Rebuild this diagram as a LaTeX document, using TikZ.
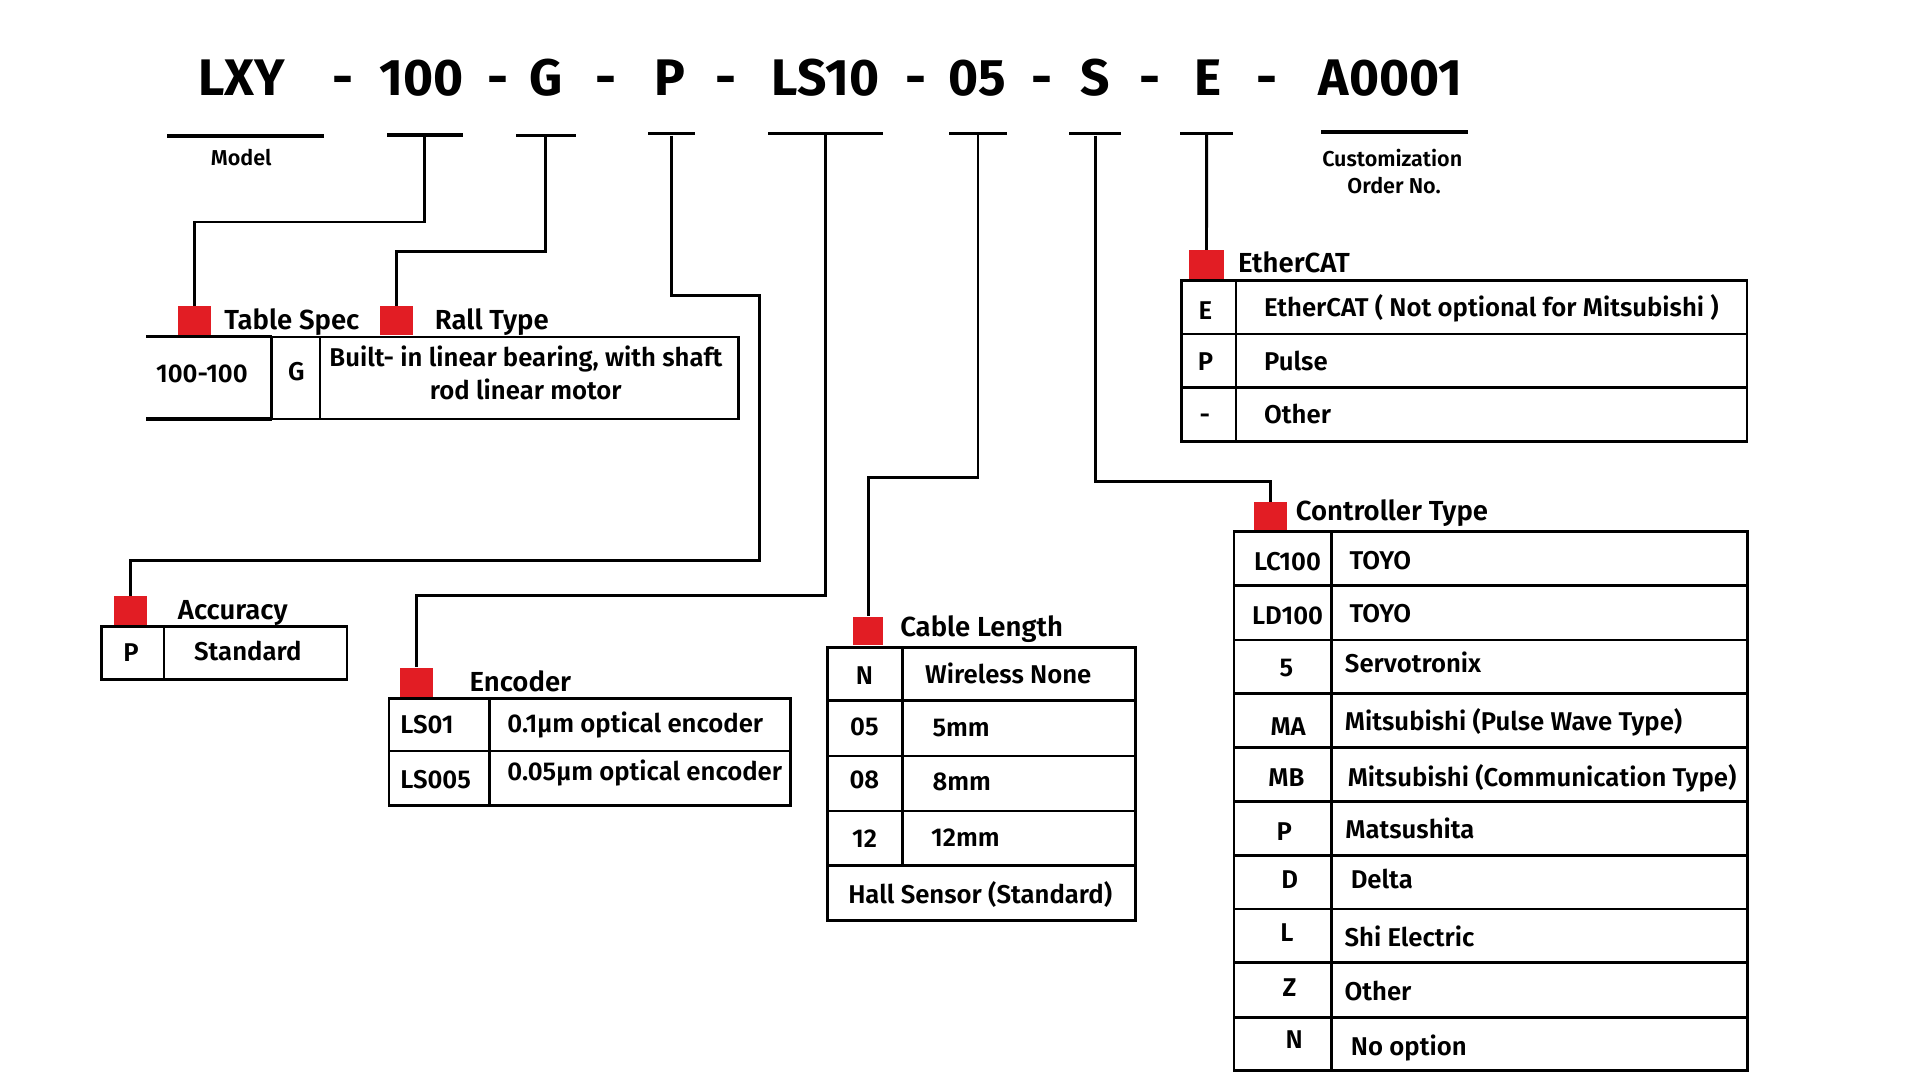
\documentclass[tikz,border=0pt]{standalone}
\usepackage{fontspec}
\setmainfont{Fira Sans}[UprightFont=* SemiBold, BoldFont=* Bold]
\definecolor{rd}{HTML}{E21D24}
\begin{document}
\begin{tikzpicture}[x=1pt,y=-1pt,
  conn/.style={line width=2.4pt},
  tl/.style={line width=2pt},
  uline/.style={fill=black, inner sep=0pt, minimum height=2.6pt},
  redsq/.style={fill=rd, inner sep=0pt, minimum width=27pt, minimum height=24pt},
  ttl/.style={font=\fontsize{42}{48}\selectfont\bfseries, anchor=base, inner sep=0pt},
  hdr/.style={font=\fontsize{22.5}{26}\selectfont, anchor=base west, inner sep=0pt},
  lbl/.style={font=\fontsize{21}{24}\selectfont, anchor=base west, inner sep=0pt},
  cel/.style={font=\fontsize{21}{24}\selectfont, anchor=base, inner sep=0pt},
  sml/.style={font=\fontsize{17.6}{20}\selectfont, anchor=base, inner sep=0pt}]
\useasboundingbox (0,0) rectangle (1568,882);

% ---------- title ----------
\node[ttl] (tLXY) at (197.4,77.6) {LXY};
\node[ttl] (d1) at (280,77.6) {-};
\node[ttl] (t100) at (344.6,77.6) {100};
\node[ttl] (d2) at (407,77.6) {-};
\node[ttl] (tG) at (445.7,77.6) {G};
\node[ttl] (d3) at (494.7,77.6) {-};
\node[ttl] (tP) at (547.4,77.6) {P};
\node[ttl] (d4) at (592.8,77.6) {-};
\node[ttl] (tLS) at (674.2,77.6) {LS10};
\node[ttl] (d5) at (747.9,77.6) {-};
\node[ttl] (t05) at (797.9,77.6) {05};
\node[ttl] (d6) at (850.9,77.6) {-};
\node[ttl] (tS) at (894.2,77.6) {S};
\node[ttl] (d7) at (939.2,77.6) {-};
\node[ttl] (tE) at (986.7,77.6) {E};
\node[ttl] (d8) at (1035,77.6) {-};
\node[ttl] (tA) at (1135.5,77.6) {A0001};

% ---------- underlines ----------
\node[uline, minimum width=128pt] (uM) at (200.5,111.1) {};
\node[uline, minimum width=62pt] (u100) at (346.8,110.3) {};
\node[uline, minimum width=49pt] (uG) at (445.5,110.7) {};
\node[uline, minimum width=38pt] (uP) at (548.3,109.2) {};
\node[uline, minimum width=94pt] (uLS) at (673.8,108.9) {};
\node[uline, minimum width=47pt] (u05) at (798.7,108.9) {};
\node[uline, minimum width=43pt] (uS) at (894.3,109.2) {};
\node[uline, minimum width=43pt] (uE) at (985.4,108.9) {};
\node[uline, minimum width=120pt, minimum height=3pt] (uA) at (1139,107.8) {};

\node[sml] (lModel) at (197,134.8) {Model};
\node[sml] (lCust) at (1137,136.1) {Customization};
\node[sml] (lOrder) at (1138.5,157.9) {Order No.};

% ---------- red markers ----------
\node[redsq] (sqTS) at (159.2,261.8) {};
\node[redsq] (sqRT) at (324,261.8) {};
\node[redsq] (sqAC) at (106.6,498.6) {};
\node[redsq] (sqEN) at (340.2,557.2) {};
\node[redsq, minimum width=25pt, minimum height=23.2pt] (sqCL) at (708.9,515.2) {};
\node[redsq, minimum width=27.8pt] (sqET) at (985.3,216.2) {};
\node[redsq] (sqCT) at (1037.5,422.2) {};

% ---------- connectors ----------
\draw[conn] (u100.south) -- (346.8,181.3) -| (sqTS.north);
\draw[conn] (uG.south) -- (445.5,205.6) -| (sqRT.north);
\draw[conn] (uP.south) -- (548.3,241.7) -- (620.4,241.7) -- (620.4,458) -| (sqAC.north);
\draw[conn] (uLS.south) -- (673.8,486.7) -| (sqEN.north);
\draw[conn] (u05.south) -- (798.7,389.8) -| (sqCL.north);
\draw[conn] (uS.south) -- (894.3,393.4) -| (sqCT.north);
\draw[conn] (uE.south) -- (sqET.north);

% redraw markers on top
\node[redsq] at (sqTS) {};
\node[redsq] at (sqRT) {};
\node[redsq] at (sqAC) {};
\node[redsq] at (sqEN) {};
\node[redsq, minimum width=25pt, minimum height=23.2pt] at (sqCL) {};
\node[redsq, minimum width=27.8pt] at (sqET) {};
\node[redsq] at (sqCT) {};

% ---------- group labels ----------
\node[hdr] (hTS) at (183,269) {Table Spec};
\node[hdr] (hRT) at (355,269) {Rall Type};
\node[hdr] (hAC) at (145.1,506.3) {Accuracy};
\node[hdr] (hEN) at (383.3,564.9) {Encoder};
\node[hdr] (hCL) at (735,520) {Cable Length};
\node[hdr] (hET) at (1010.9,222.7) {EtherCAT};
\node[hdr] (hCT) at (1058.1,424.7) {Controller Type};

% ---------- Table Spec / Rall Type ----------
\draw[line width=2.7pt] (119.5,275) -- (221.9,275);
\draw[line width=2.7pt] (119.5,342.2) -- (221.9,342.2);
\draw[tl] (221.9,275) rectangle (603,342.2);
\draw[tl] (261.4,275) -- (261.4,342.2);
\node[cel] (c100) at (164.9,312.5) {100-100};
\node[cel] (cG) at (242,310.4) {G};
\node[cel] (cB1) at (429.5,299.5) {Built- in linear bearing, with shaft};
\node[cel] (cB2) at (429.4,326.1) {rod linear motor};

% ---------- Accuracy ----------
\draw[tl] (83,511.5) rectangle (283.5,554.8);
\draw[tl] (134,511.5) -- (134,554.8);
\node[cel] (aP) at (107,540.4) {P};
\node[cel] (aS) at (202.4,539.6) {Standard};

% ---------- Encoder ----------
\draw[tl] (317.8,570.3) rectangle (645.4,658);
\draw[tl] (317.8,613.3) -- (645.4,613.3);
\draw[tl] (399.9,570.3) -- (399.9,658);
\node[lbl] (e1) at (326.7,598.9) {LS01};
\node[lbl] (e1d) at (414.2,598.4) {0.1µm optical encoder};
\node[lbl] (e2) at (326.7,643.8) {LS005};
\node[lbl] (e2d) at (414.2,637.6) {0.05µm optical encoder};

% ---------- Cable Length ----------
\draw[tl] (675.7,528.7) rectangle (927.2,751.9);
\foreach \yy in {572.2,617.2,662.1,707} \draw[tl] (675.7,\yy) -- (927.2,\yy);
\draw[tl] (736.9,528.7) -- (736.9,707);
\node[cel] (cl1) at (705.9,558.9) {N};
\node[lbl] (cl1d) at (755.4,558.1) {Wireless None};
\node[cel] (cl2) at (705.9,600.3) {05};
\node[lbl] (cl2d) at (761.4,601.6) {5mm};
\node[cel] (cl3) at (705.9,643.8) {08};
\node[lbl] (cl3d) at (761.4,645.2) {8mm};
\node[cel] (cl4) at (706,692) {12};
\node[lbl] (cl4d) at (760.3,691.5) {12mm};
\node[cel] (cl5) at (800.5,737.8) {Hall Sensor (Standard)};

% ---------- EtherCAT ----------
\draw[tl] (965,229.2) rectangle (1426.8,360.7);
\foreach \yy in {272.8,316.6} \draw[tl] (965,\yy) -- (1426.8,\yy);
\draw[tl] (1009.6,229.2) -- (1009.6,360.7);
\node[cel] (et1) at (984.5,261.3) {E};
\node[lbl] (et1d) at (1032.2,258.6) {EtherCAT ( Not optional for Mitsubishi )};
\node[cel] (et2) at (984.5,302.7) {P};
\node[lbl] (et2d) at (1032.2,302.7) {Pulse};
\node[cel] (et3) at (984,345.7) {-};
\node[lbl] (et3d) at (1032.2,345.7) {Other};

% ---------- Controller Type ----------
\draw[tl] (1007.8,434.2) rectangle (1427.1,874.4);
\foreach \yy in {478.3,522.7,566.2,610.3,654.7,698.8,742.4,786.2,830.9} \draw[tl] (1007.8,\yy) -- (1427.1,\yy);
\draw[tl] (1087.5,434.2) -- (1087.5,874.4);
\node[cel] (ct1) at (1051.5,466.3) {LC100};
\node[lbl] (ct1d) at (1101.9,464.7) {TOYO};
\node[cel] (ct2) at (1051.5,509.9) {LD100};
\node[lbl] (ct2d) at (1101.9,508.3) {TOYO};
\node[cel] (ct3) at (1050.5,552.6) {5};
\node[lbl] (ct3d) at (1098.2,549.1) {Servotronix};
\node[cel] (ct4) at (1052,600.3) {MA};
\node[lbl] (ct4d) at (1098.2,596.7) {Mitsubishi (Pulse Wave Type)};
\node[cel] (ct5) at (1050.6,642.5) {MB};
\node[lbl] (ct5d) at (1100.5,642.5) {Mitsubishi (Communication Type)};
\node[cel] (ct6) at (1048.9,686) {P};
\node[lbl] (ct6d) at (1098.5,684.6) {Matsushita};
\node[cel] (ct7) at (1053.2,725.5) {D};
\node[lbl] (ct7d) at (1102.9,725.5) {Delta};
\node[cel] (ct8) at (1051,769) {L};
\node[lbl] (ct8d) at (1097.9,773.1) {Shi Electric};
\node[cel] (ct9) at (1053.2,813.4) {Z};
\node[lbl] (ct9d) at (1097.9,816.7) {Other};
\node[cel] (ct10) at (1057,856.2) {N};
\node[lbl] (ct10d) at (1103.1,861.6) {No option};
\end{tikzpicture}
\end{document}
